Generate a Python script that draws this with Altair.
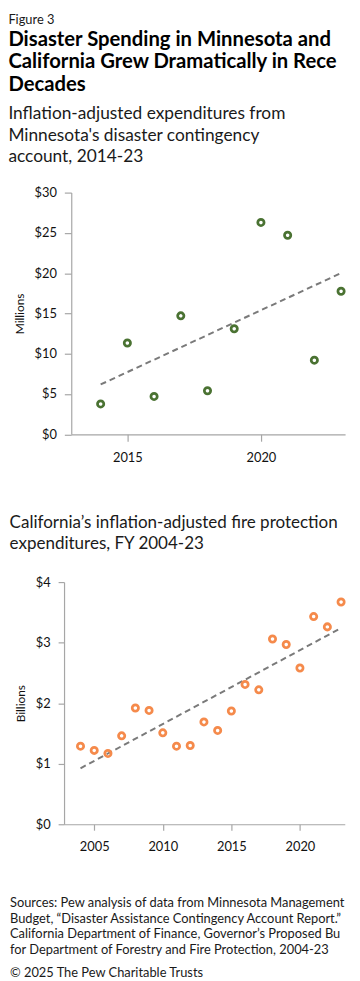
import altair as alt
import pandas as pd

# Minnesota disaster contingency account (millions $)
mn_years = [2014, 2015, 2016, 2017, 2018, 2019, 2020, 2021, 2022, 2023]
mn_values = [3.77, 11.33, 4.7, 14.7, 5.4, 13.1, 26.3, 24.7, 9.2, 17.75]

# California fire protection expenditures (billions $)
ca_years = list(range(2004, 2024))
ca_values = [1.29, 1.22, 1.17, 1.46, 1.92, 1.88, 1.51, 1.29, 1.30, 1.69,
             1.55, 1.87, 2.31, 2.22, 3.06, 2.97, 2.58, 3.43, 3.26, 3.67]

fig_label = "Figure 3"
main_title = ["Disaster Spending in Minnesota and",
              "California Grew Dramatically in Recent",
              "Decades"]
mn_subtitle = ["Inflation-adjusted expenditures from",
               "Minnesota's disaster contingency",
               "account, 2014-23"]
ca_title = ["California\u2019s inflation-adjusted fire protection",
            "expenditures, FY 2004-23"]
source_lines = ["Sources: Pew analysis of data from Minnesota Management and",
                "Budget, \u201cDisaster Assistance Contingency Account Report.\u201d",
                "California Department of Finance, Governor\u2019s Proposed Budget",
                "for Department of Forestry and Fire Protection, 2004-23"]
copyright_line = ["\u00a9 2025 The Pew Charitable Trusts"]

mn_ticks_x = [2015, 2020]
ca_ticks_x = [2005, 2010, 2015, 2020]

FONT = "Lato"
AXIS_GRAY = "#a6a6a6"
TEXT = "#1a1a1a"

mn_df = pd.DataFrame({"year": mn_years, "value": mn_values})
ca_df = pd.DataFrame({"year": ca_years, "value": ca_values})


def panel(df, color, xdomain, xrange, xticks, ydomain, ystep, ytitle,
          yoffset, tick, width, height, title, xtitle_pad):
    base = alt.Chart(df)
    xaxis = dict(values=xticks, format="d", tickSize=tick, labelPadding=11)
    if xtitle_pad:
        xaxis.update(title=" ", titleFontSize=1, titlePadding=xtitle_pad)
    else:
        xaxis.update(title=None)
    x = alt.X("year:Q",
              scale=alt.Scale(domain=xdomain, range=xrange, nice=False, zero=False),
              axis=alt.Axis(**xaxis))
    y = alt.Y("value:Q", scale=alt.Scale(domain=ydomain, nice=False),
              axis=alt.Axis(values=list(range(ydomain[0], ydomain[1] + 1, ystep)),
                            labelExpr="'$' + datum.value", title=ytitle,
                            offset=yoffset, tickSize=tick, labelPadding=8,
                            titlePadding=8))
    pts = base.mark_point(filled=False, color=color, strokeWidth=2.8, size=40,
                          opacity=1).encode(x=x, y=y)
    trend = base.transform_regression("year", "value").mark_line(
        color="#7a7a7a", strokeWidth=2, strokeDash=[6, 4]).encode(x=x, y=y)
    return (trend + pts).properties(width=width, height=height, title=title)


mn_chart = panel(
    mn_df, "#4a7232", [2012.9, 2023.15], [0, 277], mn_ticks_x, [0, 30], 5,
    "Millions", 0, 7, 277, 244.5,
    alt.TitleParams(text=main_title, subtitle=mn_subtitle, anchor="start",
                    frame="bounds", dx=-5, font=FONT, fontSize=20.5,
                    fontWeight="bold", lineHeight=22.7, color="#000",
                    limit=344,
                    subtitleFont=FONT, subtitleFontSize=17.5,
                    subtitleLineHeight=22, subtitleColor=TEXT,
                    subtitlePadding=10, offset=21),
    4)

ca_chart = panel(
    ca_df, "#f58a4b", [2002.8, 2023.27], [-7.3, 276.7], ca_ticks_x, [0, 4], 1,
    "Billions", 7.3, 6, 276.7, 245,
    alt.TitleParams(text=ca_title, anchor="start", frame="bounds", dx=-5,
                    font=FONT, fontSize=17.2, fontWeight="normal", limit=344,
                    lineHeight=22, color=TEXT, offset=24),
    0)

src_chart = alt.Chart(pd.DataFrame({"t": [""]})).mark_text().encode(
    text="t:N").properties(
    width=270, height=1,
    title=alt.TitleParams(text=source_lines, subtitle=copyright_line,
                          anchor="start", frame="group", dx=-62, limit=344,
                          font=FONT, fontSize=13, fontWeight="normal",
                          lineHeight=16, color=TEXT, subtitleFont=FONT,
                          subtitleFontSize=13, subtitleColor=TEXT,
                          subtitlePadding=10, offset=0))

chart = alt.vconcat(mn_chart, ca_chart, src_chart, spacing=43).properties(
    title=alt.TitleParams(fig_label, anchor="start", frame="bounds", font=FONT,
                          fontSize=13, fontWeight="normal", color=TEXT,
                          offset=3),
    padding={"left": 0, "top": 0, "right": 0, "bottom": 0},
).configure(
    font=FONT,
    style={"group-title": {"ellipsis": " "}},
).configure_view(stroke=None).configure_axis(
    grid=False, domainColor=AXIS_GRAY, tickColor=AXIS_GRAY,
    labelFont=FONT, labelFontSize=13, labelColor="#111",
    titleFont=FONT, titleFontSize=12, titleFontWeight="normal",
    titleColor="#111", domainWidth=1.2, tickWidth=1.2
)

chart.save("out.html", embed_options={"renderer": "svg", "actions": False})
